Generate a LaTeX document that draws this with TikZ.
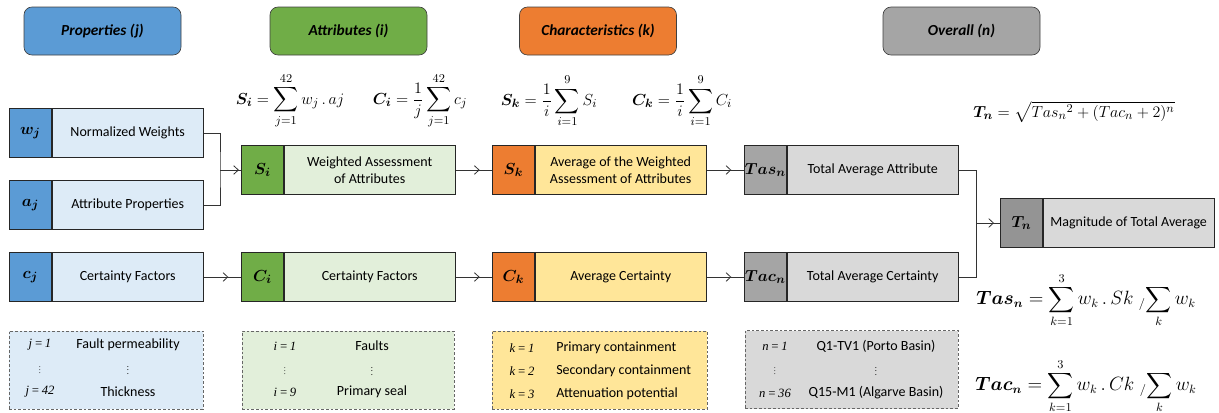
\documentclass[tikz,border=0pt]{standalone}
\usepackage{amsmath,amssymb}
\usepackage{graphicx}
\usepackage{fontspec}
\setmainfont{Carlito}
\newfontfamily\idxfont{Liberation Serif}
\usepackage{xcolor}
\usepackage{tikz}
\usetikzlibrary{arrows.meta,positioning,decorations.markings}

\definecolor{propblue}{HTML}{5B9BD5}
\definecolor{proplight}{HTML}{DDEBF7}
\definecolor{attrgreen}{HTML}{70AD47}
\definecolor{attrlight}{HTML}{E2EFDA}
\definecolor{charorange}{HTML}{ED7D31}
\definecolor{charlight}{HTML}{FFE699}
\definecolor{overgray}{HTML}{A5A5A5}
\definecolor{overlight}{HTML}{D9D9D9}
\newcommand{\vdotsm}{\scalebox{0.6}{$\vdots$}}

\begin{document}
\begin{tikzpicture}[x=0.75pt,y=-0.75pt,
      header/.style={rectangle,rounded corners=6pt,draw=black!75,line width=0.5pt,minimum width=117.75pt,minimum height=36pt,font=\fontsize{11.5}{13}\selectfont\bfseries\itshape},
      symb/.style={rectangle,draw=black!85,line width=0.6pt,minimum width=31.5pt,minimum height=36.75pt,inner sep=0pt,anchor=west,font=\fontsize{12.5}{14}\selectfont},
      desc/.style={rectangle,draw=black!85,line width=0.6pt,minimum width=128.25pt,minimum height=36.75pt,inner sep=0pt,align=center,font=\fontsize{10.5}{12.5}\selectfont},
      listbox/.style={rectangle,draw=black!60,line width=0.6pt,dash pattern=on 2pt off 1.5pt,minimum height=58.5pt,inner sep=0pt},
      idx/.style={inner sep=0pt,font={\fontsize{9.5}{11}\selectfont\idxfont\itshape}},
      item/.style={inner sep=0pt,font=\fontsize{10.5}{12.5}\selectfont},
      fml/.style={inner sep=0pt,font=\fontsize{13}{15}\selectfont},
      conn/.style={draw=black!80,line width=0.6pt},
      midarr/.style={conn,postaction={decorate},decoration={markings,mark=at position #1 with {\arrow{Straight Barb[length=3.5pt,width=6.5pt]}}}},
      midarr/.default=0.66]
    \useasboundingbox (0,0) rectangle (1219,412);
    % headers
    \node[header,fill=propblue] (hprop) at (102.5,31) {Properties (j)};
    \node[header,fill=attrgreen] (hattr) at (348.5,31) {Attributes (i)};
    \node[header,fill=charorange] (hchar) at (598,31) {Characteristics (k)};
    \node[header,fill=overgray] (hover) at (961.5,31) {Overall (n)};
    % formulas
    \node[fml] (fSi) at (290,101) {$\boldsymbol{S_i} = \displaystyle\sum_{j=1}^{42} w_j\,.\,aj$};
    \node[fml] (fCi) at (420,101) {$\boldsymbol{C_i} = \dfrac{1}{j}\displaystyle\sum_{j=1}^{42} c_j$};
    \node[fml] (fSk) at (549,101) {$\boldsymbol{S_k} = \dfrac{1}{i}\displaystyle\sum_{i=1}^{9} S_i$};
    \node[fml] (fCk) at (682,101) {$\boldsymbol{C_k} = \dfrac{1}{i}\displaystyle\sum_{i=1}^{9} C_i$};
    \node[fml] (fTn) at (1074,112) {$\boldsymbol{T_n} = \sqrt{Tas_n{}^2 + (Tac_n+2)^n}$};
    \node[fml,font=\fontsize{13.5}{15}\selectfont] (fTas) at (1086,300) {$\boldsymbol{Tas_n} = \displaystyle\sum_{k=1}^{3} w_k\,.\,Sk\;{}_{/}\!\sum_{k} w_k$};
    \node[fml,font=\fontsize{13.5}{15}\selectfont] (fTac) at (1086,386) {$\boldsymbol{Tac_n} = \displaystyle\sum_{k=1}^{3} w_k\,.\,Ck\;{}_{/}\!\sum_{k} w_k$};
    % properties
    \node[symb,fill=propblue] (wsym) at (9,133) {$\boldsymbol{w_j}$};
    \node[desc,fill=proplight,minimum width=113.25pt,right=0pt of wsym] (wtxt) {Normalized Weights};
    \node[symb,fill=propblue] (asym) at (9,205) {$\boldsymbol{a_j}$};
    \node[desc,fill=proplight,minimum width=113.25pt,right=0pt of asym] (atxt) {Attribute Properties};
    \node[symb,fill=propblue] (csym) at (9,277) {$\boldsymbol{c_j}$};
    \node[desc,fill=proplight,minimum width=113.25pt,right=0pt of csym] (ctxt) {Certainty Factors};
    % attributes
    \node[symb,fill=attrgreen] (Sisym) at (241,170) {$\boldsymbol{S_i}$};
    \node[desc,fill=attrlight,right=0pt of Sisym] (Sitxt) {Weighted Assessment\\of Attributes};
    \node[symb,fill=attrgreen] (Cisym) at (241,277) {$\boldsymbol{C_i}$};
    \node[desc,fill=attrlight,right=0pt of Cisym] (Citxt) {Certainty Factors};
    % characteristics
    \node[symb,fill=charorange] (Sksym) at (492,170) {$\boldsymbol{S_k}$};
    \node[desc,fill=charlight,right=0pt of Sksym] (Sktxt) {Average of the Weighted\\Assessment of Attributes};
    \node[symb,fill=charorange] (Cksym) at (492,277) {$\boldsymbol{C_k}$};
    \node[desc,fill=charlight,right=0pt of Cksym] (Cktxt) {Average Certainty};
    % overall
    \node[symb,fill=overgray] (Tassym) at (744,170) {$\boldsymbol{Tas_n}$};
    \node[desc,fill=overlight,right=0pt of Tassym] (Tastxt) {Total Average Attribute};
    \node[symb,fill=overgray] (Tacsym) at (744,277) {$\boldsymbol{Tac_n}$};
    \node[desc,fill=overlight,right=0pt of Tacsym] (Tactxt) {Total Average Certainty};
    \node[symb,fill=overgray!90!black] (Tnsym) at (1000,223) {$\boldsymbol{T_n}$};
    \node[desc,fill=overlight,right=0pt of Tnsym] (Tntxt) {Magnitude of Total Average};
    % connectors
    \coordinate (J1) at ([xshift=-15.75pt]Sisym.west);
    \coordinate (J2) at ([xshift=-18pt]Tnsym.west);
    \draw[conn] (wtxt.east) -| (J1) |- (atxt.east);
    \draw[midarr=0.9] (J1) -- (Sisym.west);
    \draw[midarr] (ctxt.east) -- (Cisym.west);
    \draw[midarr] (Sitxt.east) -- (Sksym.west);
    \draw[midarr] (Citxt.east) -- (Cksym.west);
    \draw[midarr] (Sktxt.east) -- (Tassym.west);
    \draw[midarr] (Cktxt.east) -- (Tacsym.west);
    \draw[conn] (Tastxt.east) -| (J2) |- (Tactxt.east);
    \draw[midarr=0.75] (J2) -- (Tnsym.west);
    % index lists
    \node[listbox,fill=proplight,minimum width=145.5pt] (lprop) at (106,370) {};
    \foreach \r/\yy/\lab/\txt in {1/345/{j\,=\,1}/{Fault permeability},2/368/{\vdotsm}/{\vdotsm},3/392/{j\,=\,42}/{Thickness}} {
      \node[idx] (lpropi\r) at (40,\yy) {\lab};
      \node[item] (lpropt\r) at (128,\yy) {\txt};
    }
    \node[listbox,fill=attrlight,minimum width=159pt] (lattr) at (348,370) {};
    \foreach \r/\yy/\lab/\txt in {1/346/{i\,=\,1}/{Faults},2/369/{\vdotsm}/{\vdotsm},3/392/{i\,=\,9}/{Primary seal}} {
      \node[idx] (lattri\r) at (285,\yy) {\lab};
      \node[item] (lattrt\r) at (372,\yy) {\txt};
    }
    \node[listbox,fill=charlight,minimum width=161.25pt] (lchar) at (599.5,370) {};
    \foreach \r/\yy/\lab/\txt in {1/348/{k\,=\,1}/{Primary containment},2/371/{k\,=\,2}/{Secondary containment},3/394/{k\,=\,3}/{Attenuation potential}} {
      \node[idx] (lchari\r) at (522,\yy) {\lab};
      \node[item,anchor=west] (lchart\r) at (556,\yy) {\txt};
    }
    \node[listbox,fill=overlight,minimum width=159.75pt] (lover) at (851.5,369.5) {};
    \foreach \r/\yy/\lab/\txt in {1/346/{n\,=\,1}/{Q1-TV1 (Porto Basin)},2/369/{\vdotsm}/{\vdotsm},3/393/{n\,=\,36}/{Q15-M1 (Algarve Basin)}} {
      \node[idx] (loveri\r) at (775,\yy) {\lab};
      \node[item] (lovert\r) at (876,\yy) {\txt};
    }
  \end{tikzpicture}
\end{document}
